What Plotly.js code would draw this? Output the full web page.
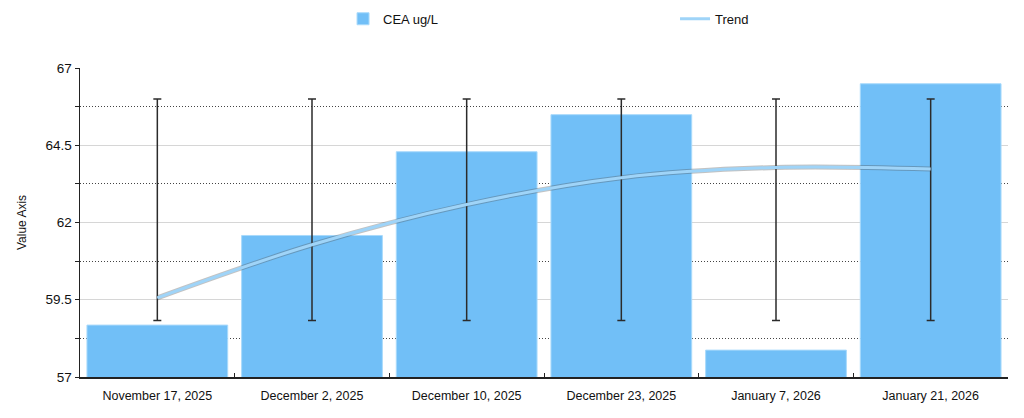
<!DOCTYPE html>
<html>
<head>
<meta charset="utf-8">
<script src="https://cdn.plot.ly/plotly-3.0.1.min.js"></script>
<style>html,body{margin:0;padding:0;background:#fff;}#chart{width:1024px;height:418px;}</style>
</head>
<body>
<div id="chart"></div>
<script>
const dates = ["November 17, 2025", "December 2, 2025", "December 10, 2025", "December 23, 2025", "January 7, 2026", "January 21, 2026"];
const ceaValues = [58.68, 61.58, 64.29, 65.49, 57.87, 66.49];
const errorTop = [66, 66, 66, 66, 66, 66];
const errorBottom = [58.83, 58.83, 58.83, 58.83, 58.83, 58.83];
const trendValues = [59.56, 61.28, 62.58, 63.45, 63.78, 63.73];

const errPlus = ceaValues.map((v, i) => errorTop[i] - v);
const errMinus = ceaValues.map((v, i) => v - errorBottom[i]);

const font = "Liberation Sans, Arial, Helvetica, sans-serif";

const traces = [
  {
    type: "bar",
    name: "CEA ug/L",
    x: dates,
    y: ceaValues,
    marker: { color: "#71bff7", line: { color: "#a9dafb", width: 1 } },
    error_y: {
      type: "data", symmetric: false,
      array: errPlus, arrayminus: errMinus,
      color: "#2b2b2b", thickness: 1.5, width: 4
    }
  },
  {
    type: "scatter", mode: "lines", x: dates, y: trendValues,
    line: { color: "rgba(80,80,80,0.35)", width: 5, shape: "spline" },
    showlegend: false, hoverinfo: "skip"
  },
  {
    type: "scatter", mode: "lines", name: "Trend", x: dates, y: trendValues,
    line: { color: "#9fd4f8", width: 3, shape: "spline" }
  }
];

const layout = {
  width: 1024, height: 418,
  margin: { l: 80, r: 16, t: 68, b: 41 },
  paper_bgcolor: "#fff", plot_bgcolor: "#fff",
  font: { family: font, size: 13, color: "#111" },
  bargap: 0.09,
  showlegend: true,
  legend: {
    orientation: "h", xref: "container", x: 0.335, xanchor: "left",
    yref: "container", y: 0.955, yanchor: "middle",
    itemwidth: 30,
    entrywidth: 287, font: { size: 13, family: font, color: "#111" },
    traceorder: "normal"
  },
  xaxis: {
    type: "category",
    showline: true, linecolor: "#222", linewidth: 1.5,
    ticks: "inside", ticklen: 4, tickcolor: "#222", tickson: "boundaries",
    showgrid: false, zeroline: false,
    tickfont: { size: 12.5, family: font, color: "#111" },
    ticklabelstandoff: 6,
    automargin: false
  },
  yaxis: {
    title: { text: "Value Axis", font: { size: 12, family: font, color: "#111" }, standoff: 16 },
    range: [57, 67], tick0: 57, dtick: 2.5,
    showline: true, linecolor: "#222", linewidth: 1.5,
    ticks: "outside", ticklen: 4, tickcolor: "#222",
    showgrid: true, gridcolor: "#d6d6d6", gridwidth: 1,
    zeroline: false,
    tickfont: { size: 13.5, family: font, color: "#111" },
    minor: { dtick: 1.25, tick0: 57, showgrid: true, gridcolor: "#444", griddash: "1px,2px", gridwidth: 1, ticks: "outside", ticklen: 4, tickcolor: "#222" },
    automargin: false
  }
};

Plotly.newPlot("chart", traces, layout, { displayModeBar: false, staticPlot: true });
</script>
</body>
</html>
